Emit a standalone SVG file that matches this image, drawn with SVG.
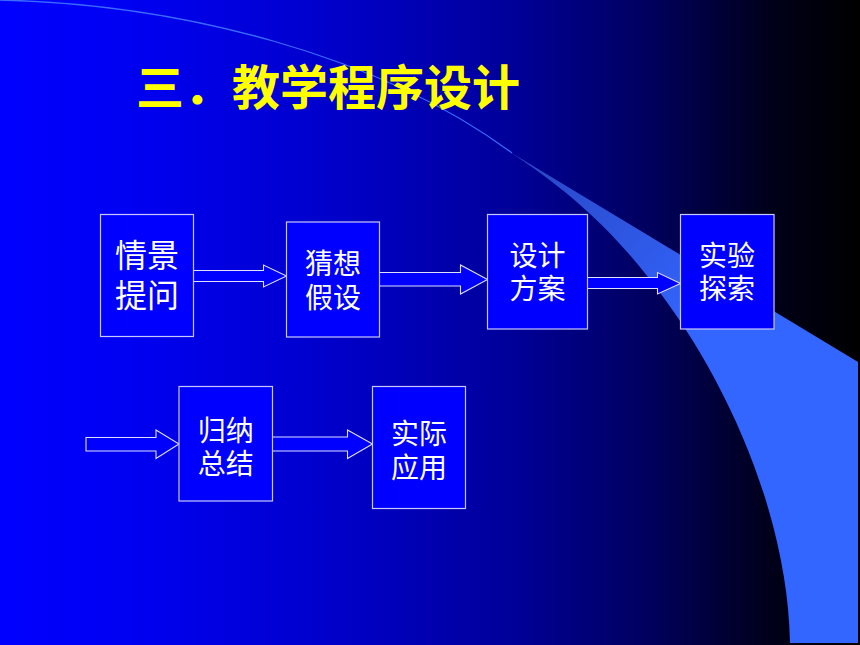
<svg xmlns="http://www.w3.org/2000/svg" width="860" height="645" viewBox="0 0 860 645">
  <defs>
    <linearGradient id="bg" x1="0" y1="0" x2="1" y2="0">
      <stop offset="0" stop-color="#0000ff"/>
      <stop offset="0.15" stop-color="#0000f2"/>
      <stop offset="0.4" stop-color="#0000c8"/>
      <stop offset="0.6" stop-color="#000098"/>
      <stop offset="0.76" stop-color="#00005c"/>
      <stop offset="0.9" stop-color="#000018"/>
      <stop offset="1" stop-color="#000000"/>
    </linearGradient>
    <linearGradient id="sw" gradientUnits="userSpaceOnUse" x1="510" y1="152" x2="700" y2="330">
      <stop offset="0" stop-color="#2844c0"/>
      <stop offset="1" stop-color="#3366ff"/>
    </linearGradient>
    <style>
      .box { fill: #0000ff; stroke: #c8c8ff; stroke-width: 1.2; }
      .arrow { fill: #0000ff; stroke: #e0e0ff; stroke-width: 1.1; stroke-linejoin: miter; }
      .lbl { fill: #ffffff; font-family: "Liberation Sans", "Noto Sans CJK SC", sans-serif; font-size: 28px; text-anchor: middle; }
      .title { fill: #ffff00; font-family: "Liberation Sans", "Noto Sans CJK SC", sans-serif; font-size: 48px; font-weight: bold; }
    </style>
  </defs>

  <!-- background -->
  <rect x="0" y="0" width="860" height="645" fill="url(#bg)"/>
  <!-- decorative swoosh -->
  <path d="M510,152 L858,362 L858,643 L790,643 C788,520 730,380 648,277 C605,222 560,185 510,152 Z" fill="url(#sw)"/>
  <path d="M0,0 C180,4 380,55 512,153" fill="none" stroke="#3a6cff" stroke-width="1.3"/>

  <!-- title -->
  <text class="title" x="136" y="105">三．教学程序设计</text>

  <!-- connectors -->
  <g id="connectors">
    <path class="arrow" d="M193.5,270.5 L263.5,270.5 L263.5,265 L286.5,276 L263.5,287 L263.5,281.5 L193.5,281.5"/>
    <path class="arrow" d="M379.5,272.5 L460.5,272.5 L460.5,265 L487.5,279.5 L460.5,294 L460.5,286 L379.5,286"/>
    <path class="arrow" d="M587.5,277.5 L657.5,277.5 L657.5,272.5 L680.5,283.5 L657.5,294 L657.5,288.5 L587.5,288.5"/>
    <path class="arrow" d="M86,437.5 L156,437.5 L156,430 L179,444 L156,458.5 L156,451 L86,451 Z"/>
    <path class="arrow" d="M272.5,437 L347.5,437 L347.5,430 L372.5,444 L347.5,458.5 L347.5,451 L272.5,451"/>
  </g>

  <!-- nodes -->
  <g id="node1">
    <rect class="box" x="100.5" y="214.5" width="93" height="122"/>
    <text class="lbl" x="147" y="267" style="font-size:32px">情景</text>
    <text class="lbl" x="147" y="307" style="font-size:32px">提问</text>
  </g>
  <g id="node2">
    <rect class="box" x="286.5" y="222" width="93" height="115"/>
    <text class="lbl" x="333" y="273.5">猜想</text>
    <text class="lbl" x="333" y="307.5">假设</text>
  </g>
  <g id="node3">
    <rect class="box" x="487.5" y="214.5" width="100" height="114.5"/>
    <text class="lbl" x="537.5" y="265.5">设计</text>
    <text class="lbl" x="537.5" y="298.5">方案</text>
  </g>
  <g id="node4">
    <rect class="box" x="680.5" y="214.5" width="93.5" height="114.5"/>
    <text class="lbl" x="727" y="265.5">实验</text>
    <text class="lbl" x="727" y="298.5">探索</text>
  </g>
  <g id="node5">
    <rect class="box" x="179" y="386.5" width="93.5" height="114.5"/>
    <text class="lbl" x="225.7" y="440.5">归纳</text>
    <text class="lbl" x="225.7" y="473.5">总结</text>
  </g>
  <g id="node6">
    <rect class="box" x="372.5" y="386.5" width="93" height="122"/>
    <text class="lbl" x="419" y="443.5">实际</text>
    <text class="lbl" x="419" y="477.5">应用</text>
  </g>
</svg>
